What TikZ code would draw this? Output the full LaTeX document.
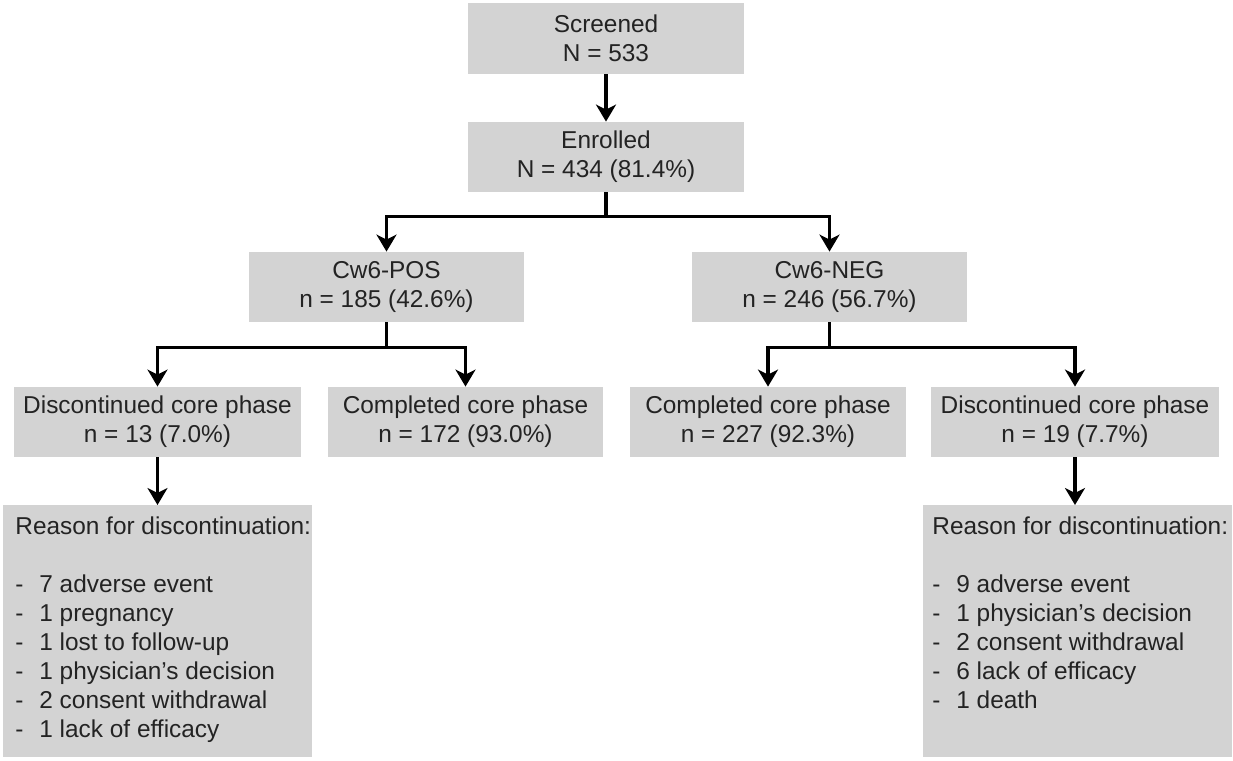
\documentclass[tikz,border=0pt]{standalone}
\usepackage{fontspec}
\setmainfont{Liberation Sans}
\usetikzlibrary{arrows.meta}
\definecolor{boxgray}{RGB}{211,211,211}
\definecolor{txt}{RGB}{35,35,35}
\newcommand{\dashitem}[1]{\makebox[12pt][l]{-}#1}
\begin{document}
\begin{tikzpicture}[x=0.5pt,y=-0.5pt,
  box/.style={fill=boxgray, text=txt, inner sep=0pt, align=center,
    font=\fontsize{12.2}{14.5}\selectfont},
  rowbox/.style={box, minimum height=35pt},
  reasonbox/.style={box, anchor=north west, align=left, inner xsep=0pt, inner ysep=5.5pt},
  arr/.style={draw=black, line width=1.7pt,
    -{Stealth[length=8.5pt,width=10pt,inset=2.5pt]}},
]
\useasboundingbox (0,0) rectangle (1233,761);

\node[box, minimum width=138pt, minimum height=35.5pt] (scr) at (606,38.5) {Screened\\N = 533};
\node[rowbox, minimum width=138pt] (enr) at (606,157) {Enrolled\\N = 434 (81.4\%)};

\node[rowbox, minimum width=137.5pt] (pos) at (386.5,287) {Cw6-POS\\n = 185 (42.6\%)};
\node[rowbox, minimum width=137.5pt] (neg) at (829.5,287) {Cw6-NEG\\n = 246 (56.7\%)};

\node[rowbox, minimum width=143.5pt] (dl) at (157.5,422) {Discontinued core phase\\n = 13 (7.0\%)};
\node[rowbox, minimum width=137.5pt] (cl) at (465.5,422) {Completed core phase\\n = 172 (93.0\%)};
\node[rowbox, minimum width=138pt] (cr) at (768,422) {Completed core phase\\n = 227 (92.3\%)};
\node[rowbox, minimum width=144pt] (dr) at (1075,422) {Discontinued core phase\\n = 19 (7.7\%)};

\node[reasonbox] (rl) at (3,505) {\parbox[c][115pt][t]{154.5pt}{\raggedright\leftskip=6pt
Reason for discontinuation:\\[14.5pt]
\dashitem{7 adverse event}\\
\dashitem{1 pregnancy}\\
\dashitem{1 lost to follow-up}\\
\dashitem{1 physician’s decision}\\
\dashitem{2 consent withdrawal}\\
\dashitem{1 lack of efficacy}}};

\node[reasonbox] (rr) at (923,505) {\parbox[c][115pt][t]{154.5pt}{\raggedright\leftskip=4.5pt
Reason for discontinuation:\\[14.5pt]
\dashitem{9 adverse event}\\
\dashitem{1 physician’s decision}\\
\dashitem{2 consent withdrawal}\\
\dashitem{6 lack of efficacy}\\
\dashitem{1 death}}};

\draw[arr] (scr.south) -- (enr.north);
\draw[arr] (enr.south) -- ++(0,24) -| (pos.north);
\draw[arr] (enr.south) -- ++(0,24) -| (neg.north);
\draw[arr] (pos.south) -- ++(0,25) -| (dl.north);
\draw[arr] (pos.south) -- ++(0,25) -| (cl.north);
\draw[arr] (neg.south) -- ++(0,25) -| (cr.north);
\draw[arr] (neg.south) -- ++(0,25) -| (dr.north);
\draw[arr] (dl.south) -- (dl.south |- rl.north);
\draw[arr] (dr.south) -- (dr.south |- rr.north);
\end{tikzpicture}
\end{document}
